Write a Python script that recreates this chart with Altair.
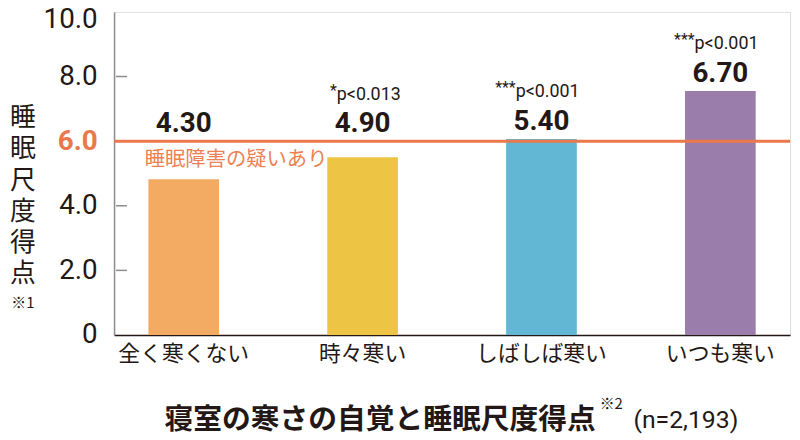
import altair as alt
import pandas as pd

# ---- data ----
categories = ["全く寒くない", "時々寒い", "しばしば寒い", "いつも寒い"]
bar_heights = [4.82, 5.50, 6.07, 7.55]          # heights as drawn
value_labels = ["4.30", "4.90", "5.40", "6.70"]  # printed values
stars = ["", "*", "***", "***"]
p_texts = ["", "p<0.013", "p<0.001", "p<0.001"]
bar_colors = ["#F3AA62", "#EDC444", "#62B7D4", "#9A7DAA"]
y_ticks = [0, 2, 4, 6, 8, 10]
inner_ticks = [2, 4, 8]
threshold = [6.0]
threshold_label = "睡眠障害の疑いあり"
y_title_chars = ["睡", "眠", "尺", "度", "得", "点"]
y_title_note = "※1"
x_title_main = "寝室の寒さの自覚と睡眠尺度得点"
x_title_note = "※2"
x_title_n = "(n=2,193)"

NUM_FONT = "Roboto"
JP_FONT = "Noto Sans CJK JP"
INK = "#231815"
ORANGE = "#E9784A"
GRAY = "#8C8C8C"

df = pd.DataFrame({
    "cat": categories,
    "h": bar_heights,
    "label": value_labels,
    "stars": stars,
    "p": p_texts,
    "color": bar_colors,
})
thr_df = pd.DataFrame({"t": threshold})
tick_df = pd.DataFrame({"v": inner_ticks})

W, H = 682, 326

x_enc = alt.X(
    "cat:N",
    sort=categories,
    scale=alt.Scale(paddingInner=0.605, paddingOuter=0.192),
    axis=alt.Axis(
        title=None, labelAngle=0, labelFont=JP_FONT, labelFontSize=22,
        labelColor=INK, labelPadding=9, ticks=False,
        domainColor=INK, domainWidth=1.5,
    ),
)
y_scale = alt.Scale(domain=[0, 10], nice=False)
y_enc = alt.Y(
    "h:Q",
    scale=y_scale,
    axis=alt.Axis(
        title=None, values=y_ticks, ticks=False, grid=False,
        labelExpr="datum.value == 0 ? '0' : format(datum.value, '.1f')",
        labelFont=NUM_FONT, labelFontSize=28, labelPadding=17,
        labelColor={"expr": "datum.value == 6 ? '#E9784A' : '#231815'"},
        labelFontWeight={"expr": "datum.value == 6 ? 'bold' : 'normal'"},
        labelOffset={"expr": "datum.value == 10 ? 8 : 0"},
        labelFlush=False, labelOverlap=False,
        domainColor=GRAY, domainWidth=1.5,
    ),
)

bars = alt.Chart(df).mark_bar().encode(
    x=x_enc,
    y=y_enc,
    color=alt.Color("color:N", scale=None),
)

base_lab = alt.Chart(df).transform_calculate(ly="max(datum.h, 6.0)")
xl = alt.X("cat:N", sort=categories)
yl = alt.Y("ly:Q", scale=y_scale)

labels = base_lab.mark_text(
    font=NUM_FONT, fontSize=28, fontWeight="bold", color=INK,
    baseline="alphabetic", dy=-9,
).encode(x=xl, y=yl, text="label:N")

p_lab = base_lab.mark_text(
    font=NUM_FONT, fontSize=18, color=INK, align="left",
    baseline="alphabetic", dy=-42, dx=-26,
).encode(x=xl, y=yl, text="p:N")

star_lab = base_lab.mark_text(
    font=NUM_FONT, fontSize=16, color=INK, align="right",
    baseline="alphabetic", dy=-46, dx=-26,
).encode(x=xl, y=yl, text="stars:N")

thr_line = alt.Chart(thr_df).mark_rule(color=ORANGE, strokeWidth=3).encode(
    y=alt.Y("t:Q", scale=y_scale)
)
thr_text = alt.Chart(thr_df).mark_text(
    font=JP_FONT, fontSize=20.5, color="#EC8152", align="left", baseline="middle", dy=19
).encode(
    y=alt.Y("t:Q", scale=y_scale), x=alt.value(31), text=alt.value(threshold_label)
)

inner = alt.Chart(tick_df).mark_rule(color=GRAY, strokeWidth=1.5).encode(
    y=alt.Y("v:Q", scale=y_scale), x=alt.value(2), x2=alt.value(13)
)

# vertical axis title, one upright character per line
ytitle_layers = []
for i, ch in enumerate(y_title_chars):
    ytitle_layers.append(
        alt.Chart(thr_df).mark_text(
            font=JP_FONT, fontSize=26, color=INK, align="center", baseline="middle"
        ).encode(x=alt.value(-92), y=alt.value(107 + 31.6 * i), text=alt.value(ch))
    )

ynote = alt.Chart(thr_df).mark_text(
    font=JP_FONT, fontSize=15, color=INK, align="center", baseline="middle"
).encode(x=alt.value(-92), y=alt.value(294), text=alt.value(y_title_note))

xt_main = alt.Chart(thr_df).mark_text(
    font=JP_FONT, fontSize=29, fontWeight="bold", color=INK, align="left", baseline="middle"
).encode(x=alt.value(51), y=alt.value(412), text=alt.value(x_title_main))

xt_note = alt.Chart(thr_df).mark_text(
    font=JP_FONT, fontSize=15, color=INK, align="left", baseline="middle"
).encode(x=alt.value(490), y=alt.value(396), text=alt.value(x_title_note))

xt_n = alt.Chart(thr_df).mark_text(
    font=NUM_FONT, fontSize=25, color=INK, align="left", baseline="middle"
).encode(x=alt.value(524), y=alt.value(412), text=alt.value(x_title_n))

chart = alt.layer(
    bars, thr_line, thr_text, inner, labels, p_lab, star_lab,
    *ytitle_layers, ynote, xt_main, xt_note, xt_n,
).properties(
    width=W, height=H,
    autosize=alt.AutoSizeParams(type="none"),
    padding={"left": 107, "top": 2, "right": 2, "bottom": 104},
).configure_view(
    stroke=GRAY, strokeWidth=1.5
).configure(background="white")

chart.save("out.html", embed_options={"renderer": "svg", "actions": False})
